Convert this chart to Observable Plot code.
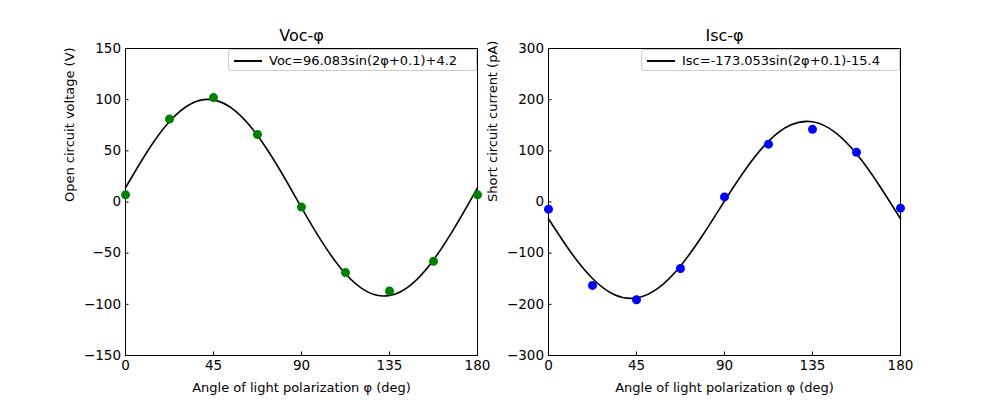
<!DOCTYPE html>
<html><head><meta charset="utf-8">
<script src="https://cdn.jsdelivr.net/npm/d3@7"></script>
<script src="https://cdn.jsdelivr.net/npm/@observablehq/plot@0.6"></script>
<style>
body{margin:0;background:#fff;font-family:"DejaVu Sans",sans-serif}
#wrap{position:relative;width:1000px;height:400px;display:flex}
#wrap svg{overflow:visible}
.leg{position:absolute;background:rgba(255,255,255,0.85);border:1px solid #ccc;border-radius:3px;font-size:13px;height:22px;line-height:22px;box-sizing:border-box;padding-left:40px;white-space:nowrap}
.leg::before{content:"";position:absolute;left:5px;top:10px;width:28px;border-top:2px solid #000}
</style></head><body>
<div id="wrap"></div>
<script>
const angles = [0, 22.5, 45, 67.5, 90, 112.5, 135, 157.5, 180]
const vocPts = [7, 81, 102, 66, -5, -69, -87, -58, 7]
const iscPts = [-14, -163, -191, -130, 10, 113, 142, 97, -12]
const fitAngles = [0, 11.25, 22.5, 33.75, 45, 56.25, 67.5, 78.75, 90, 101.25, 112.5, 123.75, 135, 146.25, 157.5, 168.75, 180]
const vocFit = [13.8, 49.6, 78.6, 96.2, 99.8, 88.8, 65.0, 32.0, -5.4, -41.2, -70.2, -87.8, -91.4, -80.4, -56.6, -23.6, 13.8]
const iscFit = [-32.7, -97.3, -149.4, -181.1, -187.6, -167.9, -124.9, -65.5, 1.9, 66.5, 118.6, 150.3, 156.8, 137.1, 94.1, 34.7, -32.7]
const xTicks = [0, 45, 90, 135, 180]
const vocTicks = [-150, -100, -50, 0, 50, 100, 150]
const iscTicks = [-300, -200, -100, 0, 100, 200, 300]

function panel(o) {
  const pts = angles.map((a, i) => ({a, v: o.pts[i]}))
  const fit = fitAngles.map((a, i) => ({a, v: o.fit[i]}))
  return Plot.plot({
    width: 500, height: 400,
    marginLeft: o.ml, marginRight: o.mr, marginTop: 48, marginBottom: 45,
    style: {fontFamily: "DejaVu Sans", fontSize: "13px", color: "#000", overflow: "visible"},
    x: {domain: [0, 180], ticks: xTicks, label: null},
    y: {domain: o.dom, ticks: o.ticks, label: null},
    marks: [
      Plot.frame({stroke: "#000"}),
      Plot.axisX({ticks: xTicks, tickSize: -3.5, tickPadding: 8, label: null, fontSize: 13.5}),
      Plot.axisY({ticks: o.ticks, tickSize: -3.5, tickPadding: 8, label: null, fontSize: 13.5}),
      Plot.text([o.title], {frameAnchor: "top", dy: -19, fontSize: 16, text: d => d}),
      Plot.text(["Angle of light polarization φ (deg)"], {frameAnchor: "bottom", dy: 36, text: d => d}),
      Plot.text([o.ylabel], {frameAnchor: "left", dx: -56, rotate: -90, text: d => d}),
      Plot.line(fit, {x: "a", y: "v", curve: "natural", stroke: "#000", strokeWidth: 1.6}),
      Plot.dot(pts, {x: "a", y: "v", r: 4.5, fill: o.color, clip: false})
    ]
  })
}

const wrap = document.getElementById("wrap")
wrap.append(panel({ml: 125, mr: 23, dom: [-150, 150], ticks: vocTicks, pts: vocPts, fit: vocFit,
  color: "green", title: "Voc-φ", ylabel: "Open circuit voltage (V)"}))
wrap.append(panel({ml: 48, mr: 100, dom: [-300, 300], ticks: iscTicks, pts: iscPts, fit: iscFit,
  color: "blue", title: "Isc-φ", ylabel: "Short circuit current (pA)"}))

function legend(text, left, width) {
  const d = document.createElement("div")
  d.className = "leg"
  d.style.left = left + "px"; d.style.top = "49px"; d.style.width = width + "px"
  d.textContent = text
  wrap.append(d)
}
legend("Voc=96.083sin(2φ+0.1)+4.2", 228, 249)
legend("Isc=-173.053sin(2φ+0.1)-15.4", 641, 259)
</script>
</body></html>
